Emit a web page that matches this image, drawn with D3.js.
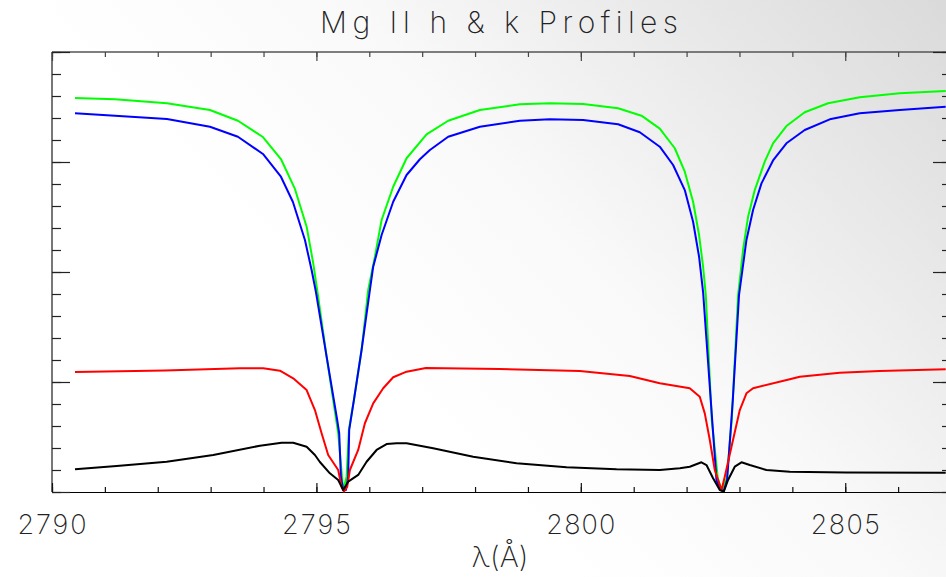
<!DOCTYPE html>
<html>
<head>
<meta charset="utf-8">
<script src="https://cdn.jsdelivr.net/npm/d3@7"></script>
<style>
  html, body { margin: 0; padding: 0; background: #fff; }
  svg { display: block; }
  .lbl { font-family: Inter, Lato, "DejaVu Sans", sans-serif; font-weight: 200; fill: #222; }
</style>
</head>
<body>
<svg id="chart" width="946" height="577"></svg>
<script>
// Mg II h & k line profiles: wavelength (Å) and relative intensity per series
const lambdaGreen = [2790.435,2791.191,2792.174,2792.987,2793.516,2793.989,2794.329,2794.594,2794.815,2794.940,2795.028,2795.193,2795.412,2795.507,2795.571,2795.614,2795.709,2795.854,2795.979,2796.106,2796.233,2796.452,2796.705,2797.083,2797.492,2798.091,2798.847,2799.414,2800.044,2800.705,2801.147,2801.493,2801.777,2801.966,2802.123,2802.236,2802.312,2802.363,2802.476,2802.590,2802.665,2802.760,2802.854,2802.974,2803.068,2803.163,2803.289,2803.478,2803.635,2803.888,2804.234,2804.675,2805.274,2806.030,2806.900];
const fluxGreen   = [3.582,3.570,3.534,3.473,3.375,3.227,3.027,2.755,2.412,2.079,1.791,1.230,0.534,0.018,0.139,0.564,0.836,1.291,1.836,2.139,2.473,2.775,3.034,3.252,3.375,3.473,3.525,3.534,3.527,3.488,3.421,3.303,3.125,2.912,2.639,2.336,2.048,1.791,0.655,0.127,0.009,0.127,0.655,1.791,2.200,2.503,2.745,3.003,3.170,3.327,3.452,3.534,3.588,3.625,3.645];

const lambdaBlue = [2790.435,2792.174,2792.987,2793.516,2793.989,2794.329,2794.556,2794.783,2794.909,2794.991,2795.193,2795.393,2795.431,2795.463,2795.507,2795.558,2795.601,2795.620,2795.709,2795.854,2796.011,2796.074,2796.233,2796.452,2796.705,2796.957,2797.146,2797.492,2798.091,2798.847,2799.414,2800.044,2800.705,2801.115,2801.493,2801.745,2801.966,2802.123,2802.236,2802.312,2802.457,2802.565,2802.628,2802.703,2802.766,2802.874,2802.992,2803.132,2803.257,2803.416,2803.635,2803.888,2804.234,2804.707,2805.274,2806.030,2806.900];
const fluxBlue   = [3.443,3.391,3.321,3.230,3.073,2.866,2.636,2.291,2.018,1.818,1.230,0.655,0.534,0.139,0.018,0.018,0.139,0.564,0.836,1.291,1.836,2.048,2.336,2.639,2.882,3.025,3.109,3.230,3.321,3.375,3.388,3.382,3.343,3.270,3.139,2.973,2.745,2.457,2.139,1.818,0.836,0.109,0.027,0.009,0.109,0.836,1.791,2.291,2.564,2.806,3.014,3.170,3.291,3.388,3.443,3.473,3.503];

const lambdaRed = [2790.435,2792.136,2793.554,2793.994,2794.310,2794.561,2794.815,2794.972,2795.098,2795.223,2795.412,2795.476,2795.520,2795.582,2795.633,2795.790,2795.917,2796.074,2796.263,2796.452,2796.705,2797.070,2798.469,2799.981,2800.926,2801.493,2802.060,2802.249,2802.344,2802.439,2802.533,2802.660,2802.722,2802.849,2803.006,2803.132,2803.257,2803.951,2804.140,2804.896,2805.652,2806.900];
const fluxRed   = [1.091,1.105,1.125,1.125,1.103,1.034,0.927,0.745,0.534,0.336,0.200,0.048,0.003,0.048,0.200,0.382,0.625,0.806,0.943,1.043,1.094,1.127,1.118,1.100,1.055,0.988,0.943,0.866,0.715,0.473,0.200,0.018,0.139,0.412,0.745,0.897,0.943,1.025,1.048,1.085,1.100,1.115];

const lambdaBlack = [2790.435,2791.223,2792.168,2793.049,2793.932,2794.342,2794.561,2794.815,2794.972,2795.066,2795.255,2795.412,2795.507,2795.601,2795.790,2795.949,2796.138,2796.327,2796.516,2796.705,2797.208,2797.964,2798.785,2799.730,2800.675,2801.493,2801.871,2802.060,2802.281,2802.376,2802.501,2802.628,2802.703,2802.784,2802.911,2803.038,2803.195,2803.510,2803.951,2805.009,2806.900];
const fluxBlack   = [0.206,0.236,0.275,0.336,0.421,0.448,0.448,0.412,0.336,0.273,0.170,0.109,0.018,0.094,0.155,0.275,0.382,0.436,0.443,0.443,0.397,0.321,0.261,0.225,0.206,0.200,0.215,0.230,0.270,0.245,0.125,0.018,0.003,0.109,0.230,0.270,0.245,0.200,0.185,0.177,0.175];

const xMajorTicks = [2790, 2795, 2800, 2805];
const xMinorTicks = d3.range(2790, 2808, 1);
const yMajorTicks = [0, 1, 2, 3, 4];
const yMinorTicks = d3.range(0, 4.01, 0.2).map(v => +v.toFixed(1));
const titleText = "Mg II h & k Profiles";
const xTitle = "λ(Å)";

const series = [
  { lambda: lambdaGreen, flux: fluxGreen, color: "#00ff00" },
  { lambda: lambdaBlue,  flux: fluxBlue,  color: "#0000ff" },
  { lambda: lambdaRed,   flux: fluxRed,   color: "#ff0000" },
  { lambda: lambdaBlack, flux: fluxBlack, color: "#000000" }
];

const W = 946, H = 577;
const m = { left: 52, right: 951, top: 52, bottom: 492 };
const svg = d3.select("#chart");

// soft grey wash towards the upper right
const defs = svg.append("defs");
const grad = defs.append("linearGradient").attr("id", "bg")
  .attr("gradientUnits", "userSpaceOnUse")
  .attr("x1", 470).attr("y1", 460).attr("x2", 946).attr("y2", 0);
grad.append("stop").attr("offset", 0).attr("stop-color", "#ffffff");
grad.append("stop").attr("offset", 0.35).attr("stop-color", "#f9f9f9");
grad.append("stop").attr("offset", 1).attr("stop-color", "#dadada");
svg.append("rect").attr("width", W).attr("height", H).attr("fill", "url(#bg)");

const x = d3.scaleLinear().domain([2790, 2807]).range([m.left, m.right]);
const y = d3.scaleLinear().domain([0, 4]).range([m.bottom, m.top]);

// frame
svg.append("line").attr("x1", m.left).attr("x2", m.left).attr("y1", m.top).attr("y2", m.bottom)
  .attr("stroke", "#555").attr("stroke-width", 1.6);
svg.append("line").attr("x1", m.left).attr("x2", m.right).attr("y1", m.top).attr("y2", m.top)
  .attr("stroke", "#555").attr("stroke-width", 1.6);
svg.append("line").attr("x1", m.left).attr("x2", m.right).attr("y1", m.bottom + 0.5).attr("y2", m.bottom + 0.5)
  .attr("stroke", "#000").attr("stroke-width", 1.2);
svg.append("line").attr("x1", m.right).attr("x2", m.right).attr("y1", m.top).attr("y2", m.bottom)
  .attr("stroke", "#555").attr("stroke-width", 1.6);

function styleTicks(g, color) {
  g.select(".domain").remove();
  g.selectAll(".tick line").attr("stroke", color).attr("stroke-width", 1.2);
}

// x ticks (bottom and top, pointing inward)
svg.append("g").attr("transform", `translate(0,${m.bottom})`)
  .call(d3.axisBottom(x).tickValues(xMinorTicks).tickSize(-5).tickFormat(""))
  .call(g => styleTicks(g, "#111"));
svg.append("g").attr("transform", `translate(0,${m.bottom})`)
  .call(d3.axisBottom(x).tickValues(xMajorTicks).tickSize(-9).tickFormat(""))
  .call(g => styleTicks(g, "#111"));
svg.append("g").attr("transform", `translate(0,${m.top})`)
  .call(d3.axisTop(x).tickValues(xMinorTicks).tickSize(-5).tickFormat(""))
  .call(g => styleTicks(g, "#444"));
svg.append("g").attr("transform", `translate(0,${m.top})`)
  .call(d3.axisTop(x).tickValues(xMajorTicks).tickSize(-9).tickFormat(""))
  .call(g => styleTicks(g, "#444"));

// y ticks (left and right, pointing inward)
svg.append("g").attr("transform", `translate(${m.left},0)`)
  .call(d3.axisLeft(y).tickValues(yMinorTicks).tickSize(-9).tickFormat(""))
  .call(g => styleTicks(g, "#222"));
svg.append("g").attr("transform", `translate(${m.left},0)`)
  .call(d3.axisLeft(y).tickValues(yMajorTicks).tickSize(-18).tickFormat(""))
  .call(g => styleTicks(g, "#222"));
svg.append("g").attr("transform", `translate(${m.right},0)`)
  .call(d3.axisRight(y).tickValues(yMinorTicks).tickSize(-9).tickFormat(""))
  .call(g => styleTicks(g, "#222"));
svg.append("g").attr("transform", `translate(${m.right},0)`)
  .call(d3.axisRight(y).tickValues(yMajorTicks).tickSize(-18).tickFormat(""))
  .call(g => styleTicks(g, "#222"));

// x tick labels
svg.append("g").selectAll("text").data(xMajorTicks).join("text")
  .attr("class", "lbl")
  .attr("x", d => x(d)).attr("y", 534)
  .attr("text-anchor", "middle")
  .attr("font-size", 27)
  .attr("textLength", 69)
  .attr("lengthAdjust", "spacing")
  .text(d => d);

// profiles
const line = d3.line().x(d => x(d[0])).y(d => y(d[1]));
svg.append("g").selectAll("path").data(series).join("path")
  .attr("d", s => line(s.lambda.map((l, i) => [l, s.flux[i]])))
  .attr("fill", "none")
  .attr("stroke", s => s.color)
  .attr("stroke-width", 2)
  .attr("stroke-linejoin", "round");

// title and axis label
svg.append("text").attr("class", "lbl")
  .attr("x", 499).attr("y", 33)
  .attr("text-anchor", "middle")
  .attr("font-size", 30)
  .attr("fill", "#333")
  .attr("textLength", 358)
  .attr("lengthAdjust", "spacing")
  .text(titleText);
svg.append("text").attr("class", "lbl")
  .attr("x", 500).attr("y", 567)
  .attr("text-anchor", "middle")
  .attr("font-size", 29)
  .attr("textLength", 57)
  .attr("lengthAdjust", "spacing")
  .text(xTitle);
</script>
</body>
</html>
